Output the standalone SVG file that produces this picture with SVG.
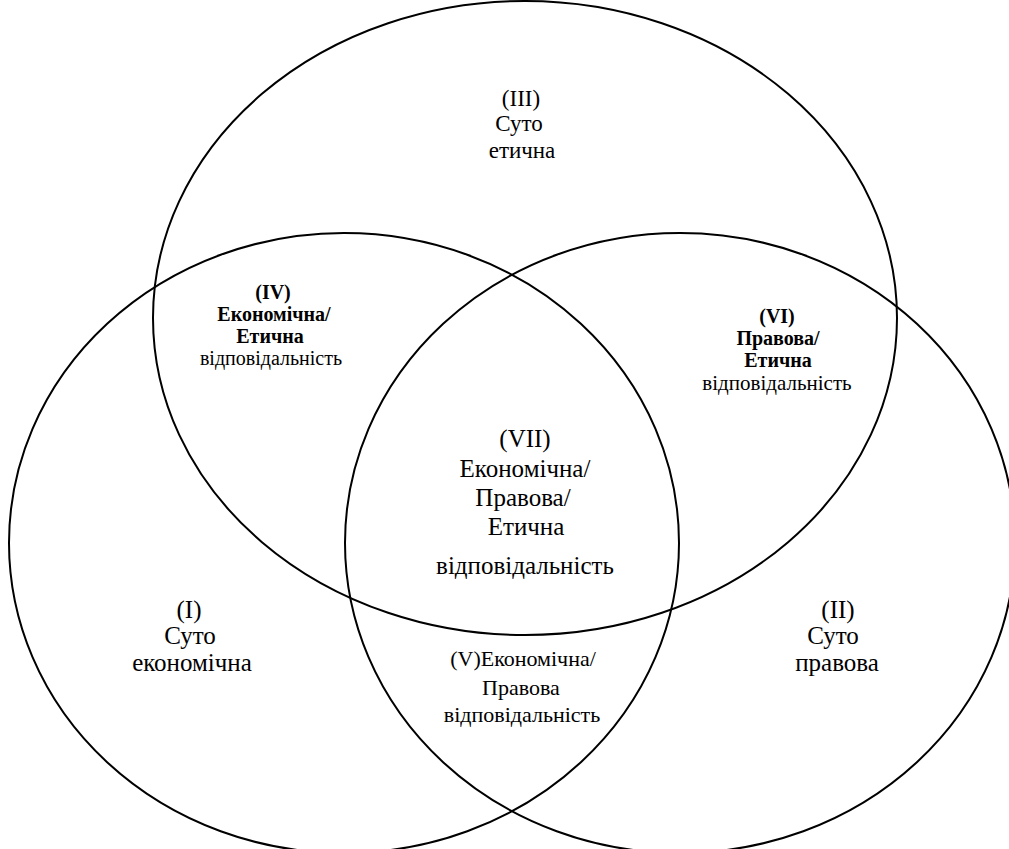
<svg xmlns="http://www.w3.org/2000/svg" width="1009" height="849" viewBox="0 0 1009 849">
<style>
.c{fill:none;stroke:#000;stroke-width:2}
.t{fill:#000;text-anchor:middle}
.big{font-size:25px}
.mid{font-size:23px}
.v{font-size:22px}
.sm{font-size:20px}
.sm2{font-size:21px}
.b{font-weight:bold}
</style>
<rect width="1009" height="849" fill="#fff"/>
<g id="circles">
<ellipse id="circle-top" class="c" cx="525" cy="318" rx="372" ry="317"/>
<ellipse id="circle-left" class="c" cx="344" cy="543" rx="335" ry="310"/>
<ellipse id="circle-right" class="c" cx="680" cy="543" rx="335" ry="310"/>
</g>
<g id="labels" font-family="'Liberation Serif', 'Times New Roman', serif">
<g id="region-III">
<text class="t mid" x="521" y="106">(III)</text>
<text class="t mid" x="519" y="131">Суто</text>
<text class="t mid" x="522" y="158">етична</text>
</g>
<g id="region-I">
<text class="t big" x="189" y="618">(I)</text>
<text class="t big" x="190" y="644">Суто</text>
<text class="t big" x="192" y="671">економічна</text>
</g>
<g id="region-II">
<text class="t big" x="838" y="618">(II)</text>
<text class="t big" x="833" y="644">Суто</text>
<text class="t big" x="837" y="671">правова</text>
</g>
<g id="region-IV">
<text class="t sm b" x="273" y="299">(IV)</text>
<text class="t sm b" x="274" y="321">Економічна/</text>
<text class="t sm b" x="270" y="343">Етична</text>
<text class="t sm" x="271" y="365">відповідальність</text>
</g>
<g id="region-VI">
<text class="t sm b" x="777" y="323">(VI)</text>
<text class="t sm b" x="778" y="345">Правова/</text>
<text class="t sm b" x="778" y="367">Етична</text>
<text class="t sm2" x="777" y="390">відповідальність</text>
</g>
<g id="region-VII">
<text class="t big" x="525" y="447">(VII)</text>
<text class="t big" x="525" y="477">Економічна/</text>
<text class="t big" x="523" y="506">Правова/</text>
<text class="t big" x="526" y="535">Етична</text>
<text class="t big" x="525" y="574" font-size="24.5">відповідальність</text>
</g>
<g id="region-V">
<text class="t v" x="523" y="666">(V)Економічна/</text>
<text class="t v" x="521" y="695">Правова</text>
<text class="t v" x="522" y="722">відповідальність</text>
</g>
</g>
</svg>
